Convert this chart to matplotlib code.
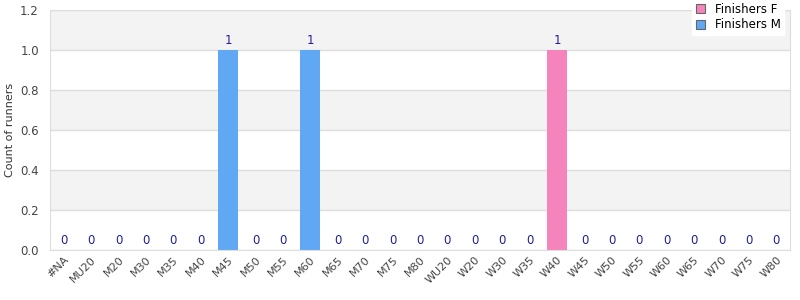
import matplotlib
matplotlib.use("Agg")
import matplotlib.pyplot as plt
import numpy as np

categories = ["#NA", "MU20", "M20", "M30", "M35", "M40", "M45", "M50", "M55",
              "M60", "M65", "M70", "M75", "M80", "WU20", "W20", "W30", "W35",
              "W40", "W45", "W50", "W55", "W60", "W65", "W70", "W75", "W80"]
finishers_f = [0, 0, 0, 0, 0, 0, 0, 0, 0, 0, 0, 0, 0, 0, 0, 0, 0, 0,
               1, 0, 0, 0, 0, 0, 0, 0, 0]
finishers_m = [0, 0, 0, 0, 0, 0, 1, 0, 0, 1, 0, 0, 0, 0, 0, 0, 0, 0,
               0, 0, 0, 0, 0, 0, 0, 0, 0]

fig = plt.figure(figsize=(8, 3), dpi=100)
ax = fig.add_axes([0.0625, 0.167, 0.925, 0.8])

x = np.arange(len(categories))
f = np.array(finishers_f)
m = np.array(finishers_m)

# alternating bands
for i, y0 in enumerate(np.arange(0, 1.2, 0.2)):
    if i % 2 == 1:
        ax.axhspan(y0, y0 + 0.2, color="#f3f3f3", zorder=0, lw=0)
ax.set_axisbelow(True)
ax.yaxis.grid(True, color="#dddddd", lw=1)

ax.bar(x, f, width=0.73, color="#f484bb", label="Finishers F", zorder=2)
ax.bar(x, m, width=0.73, bottom=f, color="#61a8f4", label="Finishers M", zorder=2)

totals = f + m
for xi, t in zip(x, totals):
    ax.text(xi, t + 0.017, str(t), ha="center", va="bottom", fontsize=8.5,
            color="#1f1f99")

ax.set_xlim(-0.5, len(categories) - 0.5)
ax.set_ylim(0, 1.2)
ax.set_yticks(np.arange(0, 1.21, 0.2))
ax.set_yticklabels([f"{v:.1f}" for v in np.arange(0, 1.21, 0.2)])
ax.set_xticks(x)
ax.set_xticklabels(categories, rotation=45, ha="right", rotation_mode="anchor")
ax.tick_params(axis="both", length=0, labelsize=8, colors="#444444")
ax.tick_params(axis="y", labelsize=8.5, pad=8)
ax.set_ylabel("Count of runners", fontsize=8, color="#333333")

for s in ax.spines.values():
    s.set_color("#dddddd")

leg = ax.legend(loc="upper right", bbox_to_anchor=(1.0, 1.07), fontsize=8.5,
                frameon=True, fancybox=False, edgecolor="white", framealpha=1,
                handlelength=0.8, handleheight=0.8, borderpad=0.3, labelspacing=0.25)
for h in leg.legend_handles:
    h.set_edgecolor("#666666")
    h.set_linewidth(0.8)

fig.savefig("out.png")
